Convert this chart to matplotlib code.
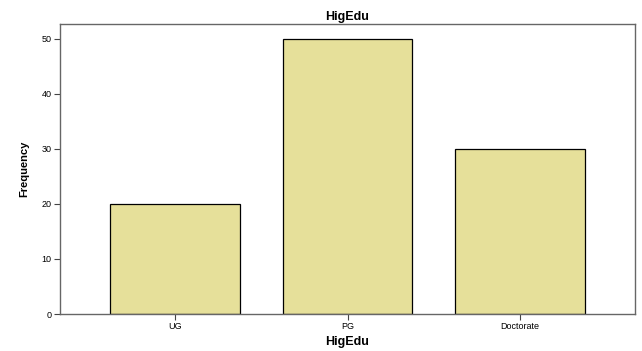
import matplotlib
matplotlib.use("Agg")
import matplotlib.pyplot as plt

categories = ["UG", "PG", "Doctorate"]
values = [20, 50, 30]
yticks = [0, 10, 20, 30, 40, 50]

fig = plt.figure(figsize=(6.42, 3.51), dpi=100)
W, H = 642, 351
ax = fig.add_axes([60 / W, 1 - 314 / H, (635 - 60) / W, (314 - 24) / H])
x = list(range(len(categories)))
ax.bar(x, values, width=0.75, color="#E6E09A", edgecolor="black", linewidth=0.9)
ax.set_xlim(-0.667, 2.667)
ax.set_ylim(0, 52.7)
ax.set_xticks(x)
ax.set_xticklabels(categories, fontsize=6.5, family="Liberation Sans")
ax.set_yticks(yticks)
ax.set_yticklabels([str(v) for v in yticks], fontsize=6.5, family="Liberation Sans")
ax.tick_params(length=4, width=0.8, color="#444444", pad=2)
for s in ax.spines.values():
    s.set_color("#666666")
    s.set_linewidth(1.0)
ax.set_title("HigEdu", fontsize=9, fontweight="bold", family="Liberation Sans", pad=3)
ax.set_xlabel("HigEdu", fontsize=9, fontweight="bold", family="Liberation Sans", labelpad=3)
ax.set_ylabel("Frequency", fontsize=8, fontweight="bold", family="Liberation Sans", labelpad=9)
fig.savefig("out.png", dpi=100)
